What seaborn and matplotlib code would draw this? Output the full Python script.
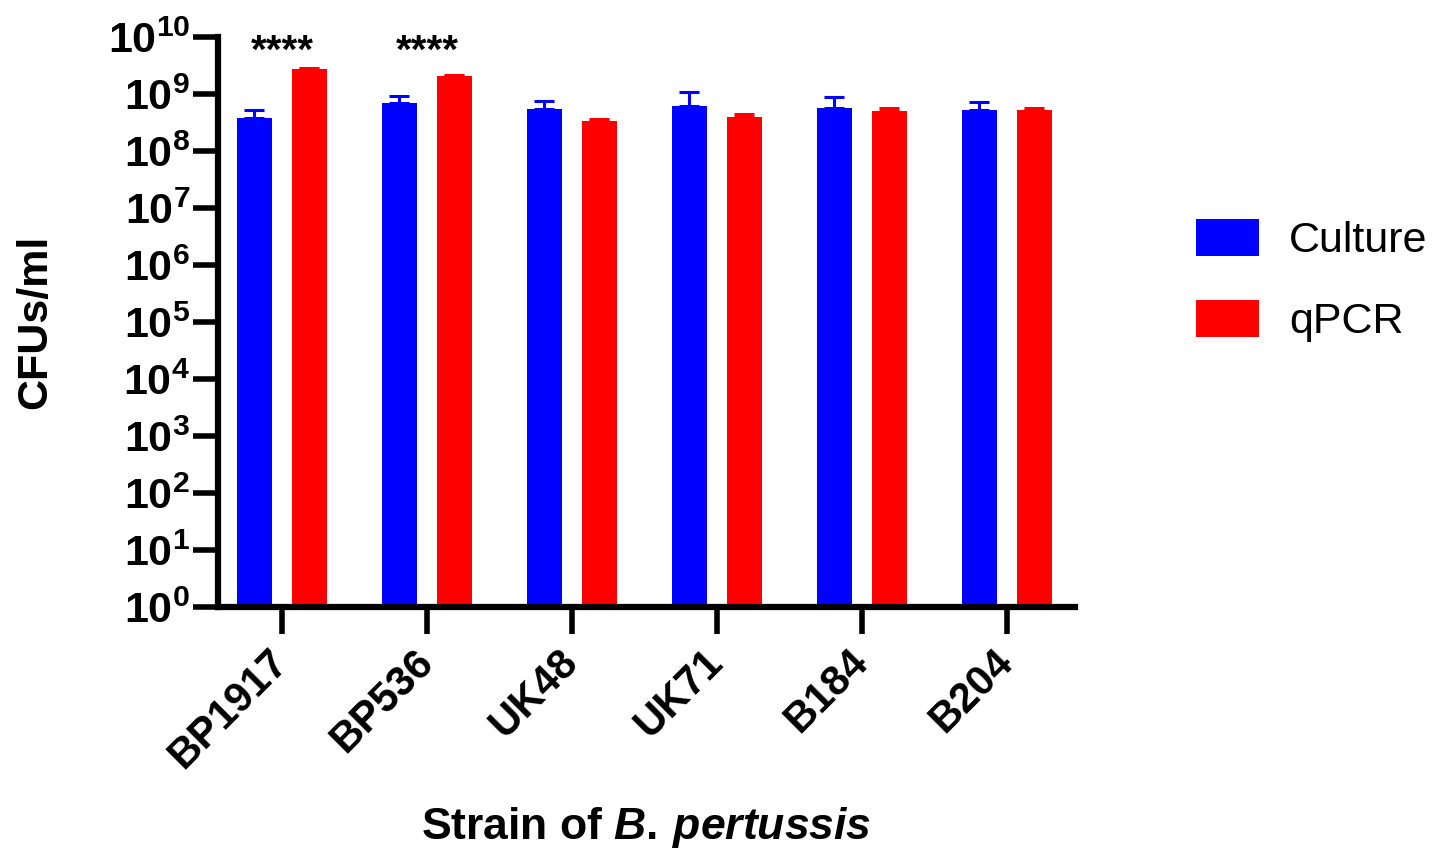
import matplotlib
matplotlib.use("Agg")
import matplotlib.pyplot as plt
import matplotlib.patches as mpatches
import seaborn as sns
import numpy as np
import pandas as pd

# data
strains = ["BP1917", "BP536", "UK48", "UK71", "B184", "B204"]
culture_mean = [3.8e8, 6.9e8, 5.4e8, 6.2e8, 5.7e8, 5.2e8]
culture_err = [1.4e8, 2.4e8, 2.0e8, 4.5e8, 3.3e8, 2.1e8]
qpcr_mean = [2.75e9, 2.1e9, 3.36e8, 3.9e8, 5.1e8, 5.25e8]
qpcr_err = [1.5e8, 2.0e7, 2.5e7, 5.0e7, 5.0e7, 4.5e7]
methods = ["Culture", "qPCR"]
significance = ["****", "****", "", "", "", ""]
y_ticks = [10.0 ** k for k in range(0, 11)]

COLORS = {"Culture": "#0000FF", "qPCR": "#FF0000"}

sns.set_style("ticks")
plt.rcParams["font.family"] = ["Liberation Sans", "DejaVu Sans"]
plt.rcParams["mathtext.fontset"] = "custom"
plt.rcParams["mathtext.rm"] = "Liberation Sans:bold"
plt.rcParams["mathtext.bf"] = "Liberation Sans:bold"
plt.rcParams["mathtext.it"] = "Liberation Sans:italic:bold"
for key in ["text.color", "axes.labelcolor", "xtick.color", "ytick.color", "axes.edgecolor"]:
    plt.rcParams[key] = "black"

df = pd.DataFrame({
    "Strain": strains * 2,
    "Method": ["Culture"] * len(strains) + ["qPCR"] * len(strains),
    "CFU": culture_mean + qpcr_mean,
    "err": culture_err + qpcr_err,
})

fig = plt.figure(figsize=(14.52, 8.48), dpi=100)
ax = fig.add_axes([0.1501, 0.2842, 0.5902, 0.6722])

sns.barplot(data=df, x="Strain", y="CFU", hue="Method", palette=COLORS,
            width=0.76, gap=0.37, saturation=1, linewidth=0, errorbar=None,
            legend=False, ax=ax)
ax.set_yscale("log")

# upper error bars only
for container, method in zip(ax.containers, methods):
    sub = df[df["Method"] == method]
    xs = [p.get_x() + p.get_width() / 2 for p in container.patches]
    ys = sub["CFU"].values
    errs = sub["err"].values
    ax.errorbar(xs, ys, yerr=[np.zeros_like(errs), errs], fmt="none",
                ecolor=COLORS[method], elinewidth=2.2, capsize=7.5, capthick=2.2,
                zorder=1)

for i, s in enumerate(significance):
    if s:
        ax.text(i, 10 ** 9.74, s, ha="center", va="center", fontsize=29,
                fontweight="bold")

ax.set_ylim(1, 1e10)
ax.set_xlim(-0.441, 5.469)
ax.set_yticks(y_ticks)
ax.set_yticklabels([r"$10^{%d}$" % k for k in range(0, 11)])
ax.yaxis.set_minor_locator(matplotlib.ticker.NullLocator())

sns.despine(ax=ax)
for side in ["left", "bottom"]:
    ax.spines[side].set_linewidth(4.5)
ax.tick_params(axis="y", length=18, width=4, labelsize=31, pad=2)
ax.tick_params(axis="x", length=19.5, width=4, labelsize=30, pad=16)
for lab in ax.get_xticklabels():
    lab.set_rotation(45)
    lab.set_ha("right")
    lab.set_va("center")
    lab.set_rotation_mode("anchor")
    lab.set_fontweight("bold")

ax.set_xlabel(r"Strain of $\mathit{B.\,pertussis}$", fontsize=32, fontweight="bold")
ax.xaxis.set_label_coords(0.5, -0.347)
ax.set_ylabel("CFUs/ml", fontsize=31, fontweight="bold")
ax.yaxis.set_label_coords(-0.19, 0.5)

handles = [mpatches.Patch(facecolor=COLORS[m], edgecolor="none", label=m) for m in methods]
fig.legend(handles=handles, loc="center left", bbox_to_anchor=(0.824, 0.669),
           frameon=False, fontsize=31, handlelength=1.45, handleheight=0.95,
           handletextpad=0.7, labelspacing=0.9, borderpad=0, borderaxespad=0)

fig.savefig("out.png", dpi=100)
plt.close(fig)
